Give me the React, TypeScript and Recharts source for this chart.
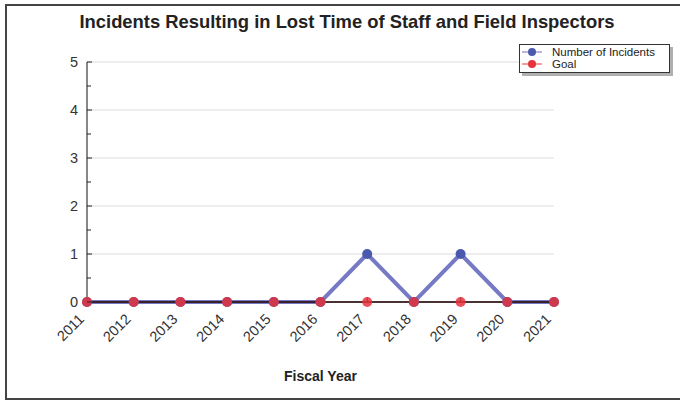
import React from 'react';
import { ComposedChart, Line, XAxis, YAxis, ReferenceLine } from 'recharts';

const YEARS = ['2011', '2012', '2013', '2014', '2015', '2016', '2017', '2018', '2019', '2020', '2021'];
const INCIDENTS = [0, 0, 0, 0, 0, 0, 1, 0, 1, 0, 0];
const GOAL = [0, 0, 0, 0, 0, 0, 0, 0, 0, 0, 0];
const Y_TICKS = [0, 0.5, 1, 1.5, 2, 2.5, 3, 3.5, 4, 4.5, 5];
const GRID_LEVELS = [1, 2, 3, 4, 5];

const FONT = '"Liberation Sans", Arial, Helvetica, sans-serif';
const BLUE_LINE = '#6f73c1';
const BLUE_DOT = '#4a59ad';
const RED = '#e8323c';

const data = YEARS.map((year, i) => ({ year, incidents: INCIDENTS[i], goal: GOAL[i] }));

function XTick(props: any) {
  const { x, y, payload } = props;
  const ax = x - 2;
  const ay = y + 18;
  return (
    <text
      x={ax}
      y={ay}
      textAnchor="end"
      fontSize={14.5}
      fill="#333"
      fontFamily={FONT}
      transform={`rotate(-45, ${ax}, ${ay})`}
    >
      {payload.value}
    </text>
  );
}

function YTick(props: any) {
  const { x, y, payload } = props;
  const major = Number.isInteger(payload.value);
  return (
    <g>
      <line x1={x} x2={x + (major ? 5 : 4)} y1={y} y2={y} stroke="#222" strokeWidth={1} />
      {major && (
        <text x={x - 9} y={y + 5} textAnchor="end" fontSize={14.5} fill="#333" fontFamily={FONT}>
          {payload.value}
        </text>
      )}
    </g>
  );
}

function LegendBox() {
  const items = [
    { name: 'Number of Incidents', line: BLUE_LINE, dot: BLUE_DOT },
    { name: 'Goal', line: RED, dot: RED },
  ];
  return (
    <div
      style={{
        position: 'absolute',
        left: 519,
        top: 44,
        width: 149,
        height: 26,
        border: '1px solid #333',
        background: '#fff',
        boxShadow: '3px 3px 0 #b0b0b0',
        fontFamily: FONT,
        fontSize: 11.5,
        color: '#222',
        paddingTop: 1,
        boxSizing: 'content-box',
      }}
    >
      {items.map((it) => (
        <div key={it.name} style={{ display: 'flex', alignItems: 'center', height: 12 }}>
          <svg width={30} height={12} style={{ display: 'block' }}>
            <line x1={2} x2={22} y1={6} y2={6} stroke={it.line} strokeWidth={1} />
            <circle cx={12} cy={6} r={4} fill={it.dot} />
          </svg>
          <span style={{ lineHeight: '12px', marginLeft: 2 }}>{it.name}</span>
        </div>
      ))}
    </div>
  );
}

export default function App() {
  return (
    <div style={{ position: 'absolute', left: 0, top: 0, width: 680, height: 400, background: '#fff', overflow: 'hidden' }}>
      <div
        style={{
          position: 'absolute',
          left: 5,
          top: 4,
          width: 720,
          height: 392,
          border: '2px solid #444',
        }}
      />
      <div
        style={{
          position: 'absolute',
          left: 0,
          top: 11,
          width: 694,
          textAlign: 'center',
          fontFamily: FONT,
          fontWeight: 'bold',
          fontSize: 18.4,
          color: '#222',
          whiteSpace: 'nowrap',
        }}
      >
        Incidents Resulting in Lost Time of Staff and Field Inspectors
      </div>
      <div
        style={{
          position: 'absolute',
          left: 220,
          top: 368,
          width: 201,
          textAlign: 'center',
          fontFamily: FONT,
          fontWeight: 'bold',
          fontSize: 14,
          color: '#222',
        }}
      >
        Fiscal Year
      </div>
      <div style={{ position: 'absolute', left: 0, top: 0 }}>
        <ComposedChart width={680} height={400} data={data} margin={{ top: 62, right: 126, bottom: 0, left: 0 }}>
          {GRID_LEVELS.map((v) => (
            <ReferenceLine key={v} y={v} stroke="#dcdcdc" strokeWidth={1} />
          ))}
          <XAxis
            dataKey="year"
            type="category"
            scale="point"
            padding={{ left: 0, right: 0 }}
            height={98}
            interval={0}
            tickSize={0}
            tickMargin={0}
            tickLine={false}
            axisLine={{ stroke: '#111', strokeWidth: 1 }}
            tick={<XTick />}
          />
          <YAxis
            domain={[0, 5]}
            ticks={Y_TICKS}
            interval={0}
            width={87}
            tickSize={0}
            tickMargin={0}
            tickLine={false}
            axisLine={{ stroke: '#111', strokeWidth: 1 }}
            tick={<YTick />}
          />
          <Line
            dataKey="incidents"
            name="Number of Incidents"
            type="linear"
            stroke={BLUE_LINE}
            strokeWidth={4}
            strokeOpacity={0.95}
            dot={{ r: 5, fill: BLUE_DOT, stroke: 'none' }}
            isAnimationActive={false}
          />
          <Line
            dataKey="goal"
            name="Goal"
            type="linear"
            stroke={RED}
            strokeWidth={1}
            dot={{ r: 5, fill: RED, fillOpacity: 0.85, stroke: 'none' }}
            isAnimationActive={false}
          />
          <ReferenceLine y={0} stroke="#111" strokeWidth={1} />
          {YEARS.map((yr) => (
            <ReferenceLine
              key={yr}
              segment={[
                { x: yr, y: 0 },
                { x: yr, y: 0.1 },
              ]}
              stroke="#111"
              strokeWidth={1}
            />
          ))}
        </ComposedChart>
      </div>
      <LegendBox />
    </div>
  );
}
